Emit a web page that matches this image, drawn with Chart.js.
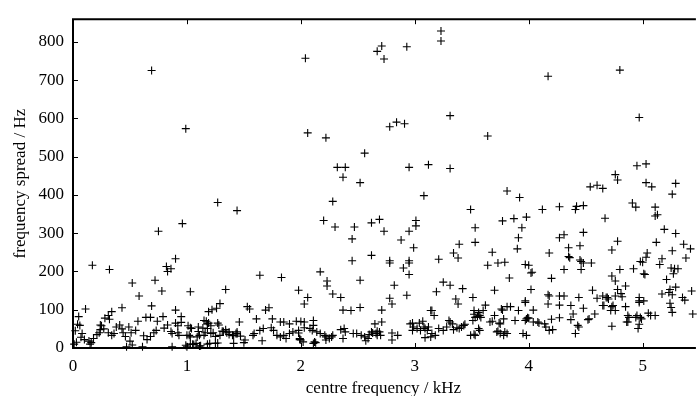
<!DOCTYPE html>
<html>
<head>
<meta charset="utf-8">
<script src="https://cdn.jsdelivr.net/npm/chart.js@4"></script>
<style>
  html, body { margin: 0; padding: 0; background: #fff; overflow: hidden; }
  canvas { display: block; }
</style>
</head>
<body>
<canvas id="spreadChart" width="699" height="396"></canvas>
<script>
// centre frequency (kHz) of each peak
const freqKHz = [
  0.17,0.32,0.75,0.96,0.52,0.58,0.72,0.78,0.82,0.83,0.86,0.90,1.03,0.11,0.43,0.69,0.90,0.95,0.05,0.04,
  0.06,0.08,0.07,0.10,0.14,0.16,0.03,0.15,0.18,0.21,0.23,0.24,0.24,0.28,0.31,0.34,0.32,0.25,0.27,0.31,
  0.34,0.36,0.38,0.41,0.43,0.44,0.46,0.47,0.49,0.51,0.55,0.57,0.52,0.50,0.61,0.62,0.65,0.68,0.64,0.68,
  0.71,0.73,0.74,0.79,0.80,0.83,0.87,0.86,0.87,0.92,0.93,0.90,0.92,0.95,0.69,0.99,0.02,0.01,
  1.27,1.44,0.99,1.00,1.03,1.06,1.08,1.12,1.01,1.03,1.02,1.10,1.11,1.14,1.16,1.17,1.19,1.21,1.19,1.22,
  1.26,1.20,1.27,1.23,1.25,1.29,1.32,1.35,1.34,1.29,1.28,1.37,1.41,1.44,1.64,1.83,1.53,1.55,1.69,1.72,
  1.61,1.46,1.75,1.82,1.85,1.90,1.96,1.98,1.04,1.10,1.15,1.18,1.18,1.27,1.31,1.34,1.37,1.40,1.43,1.44,
  1.47,1.50,1.51,1.58,1.59,1.66,1.64,1.67,1.74,1.76,1.79,1.82,1.85,1.87,1.90,1.93,1.98,1.99,1.00,1.03,
  1.05,1.11,1.18,1.25,1.09,1.15,1.21,1.41,
  2.04,2.67,2.71,2.73,2.93,2.06,2.22,2.78,2.84,2.91,2.56,2.32,2.39,2.37,2.52,2.95,2.28,2.20,2.30,2.47,
  2.45,2.62,2.69,2.73,2.88,2.95,3.01,3.01,2.99,2.45,2.62,2.78,2.78,2.95,2.95,2.90,2.95,2.17,2.23,2.23,
  2.52,2.06,2.03,2.28,2.35,2.37,2.44,2.52,2.82,2.78,2.80,2.93,2.71,2.00,2.03,2.11,2.11,1.98,2.03,2.08,
  2.10,2.14,2.17,2.21,2.22,2.27,2.28,1.99,2.02,2.12,2.11,2.22,2.25,2.35,2.38,2.39,2.37,2.46,2.49,2.53,
  2.56,2.59,2.57,2.60,2.63,2.67,2.67,2.66,2.80,2.85,2.80,2.71,2.65,2.98,2.98,2.62,2.69,2.70,2.96,2.99,
  2.00,2.13,
  3.23,3.23,3.31,3.12,3.31,3.08,3.64,3.81,3.92,3.49,3.21,3.34,3.39,3.38,3.25,3.31,3.42,3.19,3.36,3.38,
  3.15,3.17,3.53,3.53,3.51,3.62,3.68,3.64,3.73,3.79,3.83,3.70,3.91,3.94,3.90,3.97,4.00,3.77,3.84,3.91,
  3.97,3.88,3.97,3.99,3.68,3.74,3.52,3.56,3.60,3.53,3.58,3.52,3.51,3.14,3.04,3.07,3.08,3.09,3.02,3.05,
  3.11,3.12,3.15,3.18,3.09,3.14,3.21,3.25,3.28,3.30,3.31,3.33,3.34,3.39,3.41,3.43,3.44,3.49,3.53,3.56,
  3.57,3.66,3.75,3.73,3.78,3.81,3.79,3.95,3.98,3.77,3.87,3.98,3.37,3.52,3.55,3.57,3.70,3.76,3.81,3.78,
  3.72,3.75,3.97,3.98,4.03,
  4.17,4.80,4.97,4.95,5.03,4.76,4.78,4.54,4.60,4.65,5.03,5.08,5.29,5.26,4.12,4.27,4.41,4.42,4.48,4.67,
  4.91,4.94,5.11,5.13,5.11,4.48,4.27,4.31,4.35,4.35,4.18,4.45,4.45,4.48,4.55,4.46,4.31,4.20,4.02,4.02,
  4.78,4.73,4.80,4.92,5.00,5.01,4.73,4.76,4.85,4.78,4.76,4.81,4.56,4.17,4.31,4.44,4.17,4.27,4.37,4.48,
  4.60,4.65,4.68,4.70,4.65,4.73,4.85,4.72,4.76,4.97,5.01,4.04,4.39,4.58,4.52,4.20,4.27,4.37,4.00,4.04,
  4.09,4.15,4.18,4.21,4.43,4.44,4.41,4.88,4.94,4.98,4.86,4.97,4.96,4.73,5.19,5.29,5.12,5.36,5.42,5.38,
  5.26,5.04,5.03,5.17,5.15,5.02,5.25,5.28,5.31,5.27,5.21,5.24,5.29,5.17,5.23,5.26,5.35,5.37,5.43,4.97,
  4.97,5.24,5.25,5.26,4.82,4.69,4.66,4.74,4.87,4.95,4.99,5.05,5.07,5.11,4.87,5.44,4.18,4.27,4.14,4.08,
  4.53,4.36,4.46,4.98
];

// frequency spread (Hz) of each peak, same order
const spreadHz = [
  216,205,305,325,170,136,177,149,213,200,207,233,147,102,105,110,99,82,82,62,
  59,38,28,22,18,14,15,10,25,35,40,48,60,78,85,95,75,58,50,40,
  33,38,55,60,50,40,30,3,55,40,46,70,8,18,3,32,22,30,80,80,
  40,46,70,82,52,60,3,43,38,40,33,65,58,67,725,573,45,10,
  380,359,7,3,10,9,12,6,58,53,33,43,33,52,40,70,65,58,95,100,
  104,12,13,40,30,33,43,40,153,116,60,35,32,37,190,184,108,102,99,105,
  76,68,76,68,68,63,70,151,51,55,72,63,51,65,44,48,42,33,38,42,
  31,14,21,33,38,19,46,51,53,46,33,29,33,25,38,42,39,25,33,29,
  10,5,10,12,29,33,38,12,
  757,775,789,755,787,562,549,578,590,586,509,472,472,446,432,472,383,333,316,316,
  285,327,336,305,282,305,319,333,262,228,242,228,222,228,222,209,192,199,175,162,
  177,132,115,141,132,99,98,106,164,130,115,138,99,69,68,72,59,46,53,51,
  46,42,38,33,29,29,33,22,16,16,12,21,25,48,51,42,25,38,38,33,
  29,25,19,35,39,44,33,38,39,33,21,68,63,65,46,42,42,33,63,55,
  21,14,
  828,802,607,479,469,398,554,410,393,362,232,248,271,235,172,164,155,147,128,115,
  98,85,314,276,132,112,250,216,222,224,183,151,288,314,259,218,216,99,108,98,
  119,72,72,79,70,65,98,93,98,80,80,88,72,98,65,70,55,51,51,46,
  46,55,38,33,27,29,51,46,55,72,68,63,48,51,55,59,62,33,33,51,
  46,68,63,44,33,38,42,38,33,332,338,342,53,36,82,85,85,102,108,76,
  42,38,123,76,198,
  710,726,602,476,481,453,439,421,425,417,432,421,430,402,362,369,362,370,372,339,
  379,368,368,348,345,302,288,296,262,239,248,267,230,222,222,205,205,182,196,153,
  279,256,205,207,224,194,188,175,162,153,136,142,151,139,136,132,115,112,111,104,
  130,136,132,128,111,108,108,98,98,123,123,99,89,89,74,75,79,74,78,68,
  65,55,46,48,59,55,38,80,80,80,68,62,51,57,310,299,276,271,259,235,
  254,248,237,233,218,192,209,207,207,194,179,153,159,141,145,139,132,125,149,132,
  119,117,106,93,134,132,111,111,85,85,76,91,85,85,68,89,136,136,63,68,
  76,236,226,226
];

const xTicks = [0, 1, 2, 3, 4, 5];
const yTicks = [0, 100, 200, 300, 400, 500, 600, 700, 800];

const serif = "'Liberation Serif', 'Times New Roman', serif";

// box on left/top/bottom with ticks pointing into the plot
const framePlugin = {
    id: 'frame',
    afterDraw(chart) {
        const ctx = chart.ctx;
        const a = chart.chartArea;
        const xs = chart.scales.x, ys = chart.scales.y;
        ctx.save();
        ctx.strokeStyle = '#000';
        ctx.lineWidth = 1;
        ctx.beginPath();
        xTicks.forEach(v => {
            const px = Math.round(xs.getPixelForValue(v)) + 0.5;
            ctx.moveTo(px, a.bottom); ctx.lineTo(px, a.bottom - 5);
            ctx.moveTo(px, a.top); ctx.lineTo(px, a.top + 5);
        });
        yTicks.forEach(v => {
            const py = Math.round(ys.getPixelForValue(v)) + 0.5;
            ctx.moveTo(a.left, py); ctx.lineTo(a.left + 5, py);
        });
        ctx.stroke();
        ctx.lineWidth = 2;
        ctx.beginPath();
        ctx.moveTo(a.right + 2, a.top);
        ctx.lineTo(a.left, a.top);
        ctx.lineTo(a.left, a.bottom);
        ctx.lineTo(a.right + 2, a.bottom);
        ctx.stroke();
        ctx.restore();
    }
};

const ctx = document.getElementById('spreadChart').getContext('2d');
const spreadChart = new Chart(ctx, {
    type: 'scatter',
    data: {
        datasets: [{
            data: freqKHz.map((f, i) => ({ x: f, y: spreadHz[i] })),
            pointStyle: 'cross',
            pointRadius: 4,
            pointHoverRadius: 4,
            borderColor: '#000',
            backgroundColor: '#000',
            pointBorderWidth: 1.1,
            clip: false
        }]
    },
    options: {
        responsive: false,
        animation: false,
        devicePixelRatio: 1,
        layout: { padding: { top: 14, right: 0, left: 0, bottom: 0 } },
        plugins: {
            legend: { display: false },
            tooltip: { enabled: false }
        },
        scales: {
            x: {
                type: 'linear',
                min: 0,
                max: 5.45,
                afterBuildTicks: s => { s.ticks = xTicks.map(v => ({ value: v })); },
                afterFit: s => { s.height = 48; },
                grid: { display: false, drawTicks: false },
                border: { display: false },
                ticks: { color: '#000', padding: 8, maxRotation: 0, font: { family: serif, size: 17 } },
                title: {
                    display: true,
                    text: 'centre frequency / kHz',
                    color: '#000',
                    font: { family: serif, size: 17 },
                    padding: { top: 0, bottom: -3 }
                }
            },
            y: {
                min: 0,
                max: 859,
                afterBuildTicks: s => { s.ticks = yTicks.map(v => ({ value: v })); },
                afterFit: s => { s.width = 73; },
                grid: { display: false, drawTicks: false },
                border: { display: false },
                ticks: { color: '#000', padding: 9, font: { family: serif, size: 17 } },
                title: {
                    display: true,
                    text: 'frequency spread / Hz',
                    color: '#000',
                    font: { family: serif, size: 17 },
                    padding: { top: 10, bottom: 0 }
                }
            }
        }
    },
    plugins: [framePlugin]
});
</script>
</body>
</html>
